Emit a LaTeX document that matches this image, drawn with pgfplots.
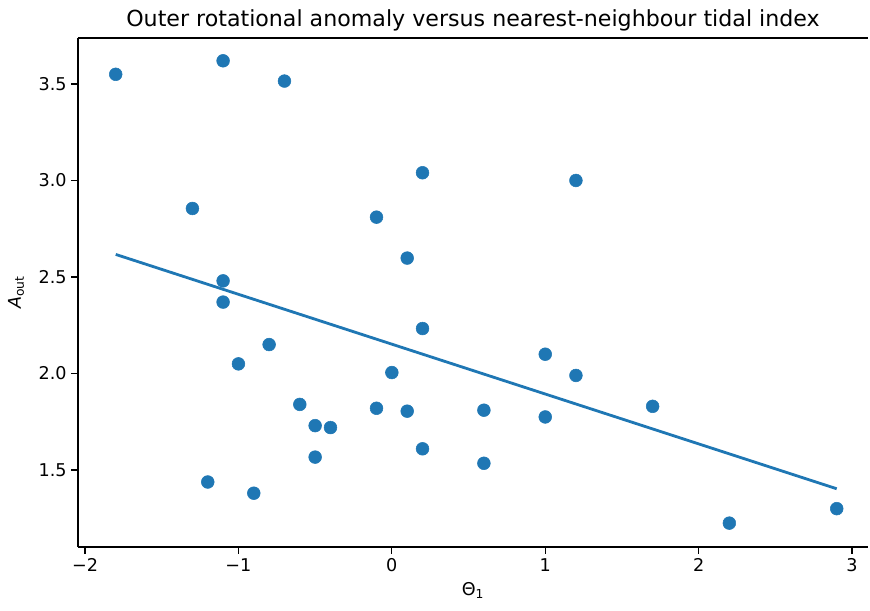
\documentclass[border=0pt]{standalone}
\usepackage{pgfplots}
\pgfplotsset{compat=1.18}
\usepackage{fontspec}
\setmainfont{DejaVu Sans}
\definecolor{mplblue}{HTML}{1F77B4}
\begin{document}
\begin{tikzpicture}
\begin{axis}[
  scale only axis,
  width=592.5pt, height=381.75pt,
  xmin=-2.046, xmax=3.104,
  ymin=1.101, ymax=3.738,
  axis x line*=box, axis y line*=left,
  xtick={-2,-1,0,1,2,3},
  xticklabels={−2,−1,0,1,2,3},
  ytick={1.5,2.0,2.5,3.0,3.5},
  yticklabels={1.5,2.0,2.5,3.0,3.5},
  xtick pos=bottom, ytick pos=left,
  tick align=outside,
  major tick length=5pt,
  tick style={black, line width=0.9pt},
  axis line style={black, line width=0.9pt},
  /pgf/number format/assume math mode=true,
  ticklabel style={font=\fontsize{13.2}{15}\selectfont},
  title={Outer rotational anomaly versus nearest-neighbour tidal index},
  title style={font=\fontsize{16.6}{19}\selectfont, yshift=-4pt},
  xlabel={Θ\textsubscript{1}},
  ylabel={\textit{A}\textsubscript{out}},
  label style={font=\fontsize{13.2}{15}\selectfont},
  xlabel style={yshift=-1pt},
  ylabel style={yshift=4pt},
  clip=false,
]
\addplot[only marks, mark=*, mark size=4.8pt, mark options={draw=mplblue, fill=mplblue}] coordinates {
(-1.8,3.55) (-1.1,3.62) (-0.7,3.515) (-1.3,2.855) (0.2,3.04) (1.2,3.0)
(-0.1,2.81) (0.1,2.598) (-1.1,2.48) (-1.1,2.37) (-0.8,2.15) (0.2,2.233)
(-1.0,2.05) (0.0,2.005) (1.0,2.10) (1.2,1.99) (-0.6,1.84) (-0.5,1.73)
(-0.4,1.72) (-0.1,1.82) (0.1,1.805) (0.6,1.81) (1.0,1.775) (1.7,1.83)
(0.2,1.61) (-0.5,1.567) (0.6,1.535) (-1.2,1.438) (-0.9,1.38) (2.2,1.225)
(2.9,1.30)
};
\addplot[mplblue, line width=2.1pt] coordinates {(-1.8,2.617) (2.9,1.403)};
\path (rel axis cs:-0.0987,-0.1238) rectangle (rel axis cs:1.0025,1.0747);
\end{axis}
\end{tikzpicture}
\end{document}
